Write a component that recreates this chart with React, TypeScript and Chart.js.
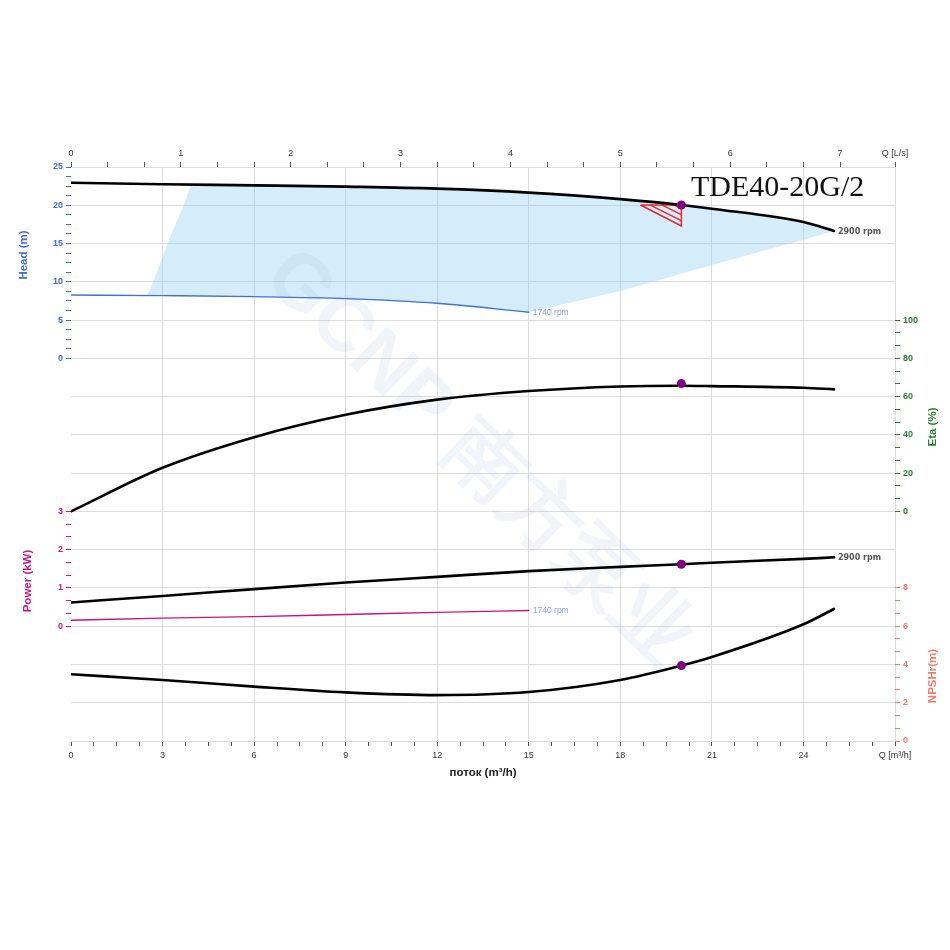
import React, { useEffect, useRef } from "react";
import { Chart, registerables } from "chart.js";

Chart.register(...registerables);

const FONT = '"Liberation Sans", Arial, Helvetica, sans-serif';

// ---------------- data (Q in m³/h) ----------------
const flow2900 = [0, 3, 6, 9, 12, 15, 18, 20, 21, 24, 25];
const head2900 = [22.95, 22.75, 22.6, 22.43, 22.17, 21.65, 20.8, 20.04, 19.55, 17.8, 16.64];
const eta2900 = [0, 22.8, 38.8, 50.5, 58.4, 62.9, 65.3, 65.7, 65.5, 64.6, 63.8];
const power2900 = [0.62, 0.79, 0.97, 1.14, 1.29, 1.44, 1.55, 1.62, 1.66, 1.76, 1.8];
const npsh2900 = [3.49, 3.19, 2.84, 2.54, 2.4, 2.56, 3.19, 3.94, 4.39, 6.1, 6.9];

const flow1740 = [0, 3, 6, 9, 12, 15];
const head1740 = [8.28, 8.19, 8.06, 7.8, 7.19, 6.02];
const power1740 = [0.157, 0.21, 0.25, 0.305, 0.36, 0.41];

// operating range (shaded polygon), Q / H
const rangeQ = [3.93, 6, 9, 12, 15, 18, 20, 21, 24, 25, 24, 21, 18, 15, 12, 9, 6, 3, 2.5, 2.7, 3.16, 3.69, 3.93];
const rangeH = [22.68, 22.6, 22.43, 22.17, 21.65, 20.8, 20.04, 19.55, 17.8, 16.64, 15.5, 12.2, 8.8, 6.02, 7.19, 7.8, 8.06, 8.19, 8.25, 10, 15, 20, 22.68];

// duty point
const dutyQ = 20;
const dutyHead = 20.04;
const dutyEta = 66.8;
const dutyPower = 1.62;
const dutyNpsh = 3.94;

// tolerance triangle
const tolQ = [18.66, 20, 20, 18.66];
const tolH = [20.04, 20.04, 17.29, 20.04];

// axis ticks
const flowTicksM3h = [0, 3, 6, 9, 12, 15, 18, 21, 24];
const flowMaxM3h = 27;
const flowTicksLs = [0, 1, 2, 3, 4, 5, 6, 7];
const headTicks = [0, 5, 10, 15, 20, 25];
const powerTicks = [0, 1, 2, 3];
const etaTicks = [0, 20, 40, 60, 80, 100];
const npshTicks = [0, 2, 4, 6, 8];

const modelName = "TDE40-20G/2";
const rpmHigh = "2900 rpm";
const rpmLow = "1740 rpm";
const watermark = "GCNP 南方泵业";

// ---------------- styling ----------------
const HEAD_COLOR = "#4169e1";
const POWER_COLOR = "#c71585";
const ETA_COLOR = "#2e7d32";
const NPSH_COLOR = "#f07c6c";
const GRID = "#dcdcdc";
const TICK_DARK = "#555";

// row layout of the combined panel (15 grid rows, row 0 at bottom)
const ROWS = 15;
const HEAD = { row0: 10, perRow: 5, sub: 4 };
const POWER = { row0: 3, perRow: 1, sub: 3 };
const ETA = { row0: 6, perRow: 20, sub: 3 };
const NPSH = { row0: 0, perRow: 2, sub: 3 };

type TickSpec = { value: number; label: string; color: string; grid: boolean; mark: boolean };

const isInt = (v: number) => Math.abs(v - Math.round(v)) < 1e-6;

function buildSide(
  groups: { ticks: number[]; row0: number; perRow: number; sub: number; color: string }[],
  withGrid: boolean
): TickSpec[] {
  const map = new Map<string, TickSpec>();
  const key = (v: number) => v.toFixed(4);
  for (let r = 0; r <= ROWS; r++) {
    map.set(key(r), { value: r, label: "", color: "transparent", grid: withGrid, mark: false });
  }
  groups.forEach((g) => {
    const rFirst = g.row0 + g.ticks[0] / g.perRow;
    const rLast = g.row0 + g.ticks[g.ticks.length - 1] / g.perRow;
    const n = Math.round((rLast - rFirst) * g.sub);
    for (let k = 0; k <= n; k++) {
      const r = rFirst + k / g.sub;
      const val = (r - g.row0) * g.perRow;
      const label =
        k % g.sub === 0 && g.ticks.some((t) => Math.abs(t - val) < 1e-6) ? String(Math.round(val)) : "";
      map.set(key(r), { value: r, label, color: g.color, grid: withGrid && isInt(r), mark: true });
    }
  });
  return [...map.values()].sort((a, b) => a.value - b.value);
}

const leftSpec = buildSide(
  [
    { ticks: headTicks, ...HEAD, color: HEAD_COLOR },
    { ticks: powerTicks, ...POWER, color: POWER_COLOR },
  ],
  true
);
const rightSpec = buildSide(
  [
    { ticks: etaTicks, ...ETA, color: ETA_COLOR },
    { ticks: npshTicks, ...NPSH, color: NPSH_COLOR },
  ],
  false
);

function buildBottom(): TickSpec[] {
  const out: TickSpec[] = [];
  const step = (flowTicksM3h[1] - flowTicksM3h[0]) / 4;
  for (let v = 0; v < flowMaxM3h - 1e-6; v += step) {
    const lab = flowTicksM3h.some((t) => Math.abs(t - v) < 1e-6);
    const major = Math.abs(v / 3 - Math.round(v / 3)) < 1e-6;
    out.push({ value: v, label: lab ? String(Math.round(v)) : "", color: "#333", grid: major && v > 0, mark: true });
  }
  out.push({ value: flowMaxM3h, label: "Q [m³/h]", color: "#333", grid: true, mark: true });
  return out;
}
function buildTop(): TickSpec[] {
  const out: TickSpec[] = [];
  const last = flowTicksLs[flowTicksLs.length - 1];
  for (let k = 0; k <= last * 3; k++) {
    const v = k / 3;
    out.push({ value: v, label: k % 3 === 0 ? String(k / 3) : "", color: "#333", grid: false, mark: true });
  }
  out.push({ value: flowMaxM3h / 3.6, label: "Q [L/s]", color: "#333", grid: false, mark: true });
  return out;
}
const bottomSpec = buildBottom();
const topSpec = buildTop();

const pts = (xs: number[], ys: number[]) => xs.map((x, i) => ({ x, y: ys[i] }));

function makeHatch(): CanvasPattern | string {
  const c = document.createElement("canvas");
  const W = 12;
  const H = 6;
  c.width = W;
  c.height = H;
  const g = c.getContext("2d");
  if (!g) return "rgba(230,30,40,0.4)";
  g.strokeStyle = "#e8262b";
  g.lineWidth = 1.4;
  for (let k = -1; k <= 1; k++) {
    g.beginPath();
    g.moveTo(-W, -H + k * H);
    g.lineTo(2 * W, 2 * H + k * H);
    g.stroke();
  }
  return g.createPattern(c, "repeat") || "rgba(230,30,40,0.4)";
}

function axisFromSpec(spec: TickSpec[], extra: any) {
  return {
    type: "linear",
    afterBuildTicks: (scale: any) => {
      scale.ticks = spec.map((s) => ({ value: s.value }));
    },
    ticks: {
      autoSkip: false,
      maxRotation: 0,
      minRotation: 0,
      callback: (_v: any, i: number) => (spec[i] ? spec[i].label : ""),
      color: (ctx: any) => (spec[ctx.index] ? spec[ctx.index].color : "#333"),
      font: { family: FONT, size: 9 },
      ...(extra.ticks || {}),
    },
    grid: {
      color: (ctx: any) => (spec[ctx.index] && spec[ctx.index].grid ? GRID : "transparent"),
      tickColor: (ctx: any) => {
        const s = spec[ctx.index];
        if (!s || !s.mark) return "transparent";
        return extra.tickColor || s.color;
      },
      tickLength: 5,
      lineWidth: 1,
      tickWidth: 1,
      ...(extra.grid || {}),
    },
    border: { display: false },
    ...extra.rest,
  };
}

const textPlugin = {
  id: "pumpTexts",
  beforeDatasetsDraw(chart: any) {
    const { ctx } = chart;
    const { left, right, top, bottom } = chart.chartArea;
    ctx.save();
    ctx.translate((left + right) / 2 - 5, (top + bottom) / 2 + 5);
    ctx.rotate((44 * Math.PI) / 180);
    ctx.font = `bold 78px ${FONT}`;
    ctx.fillStyle = "rgba(150,180,210,0.13)";
    ctx.textAlign = "center";
    ctx.textBaseline = "middle";
    ctx.fillText(watermark, 0, 0);
    ctx.restore();
  },
  afterDatasetsDraw(chart: any) {
    const { ctx } = chart;
    const { left, right, top } = chart.chartArea;
    // end-of-curve labels
    chart.data.datasets.forEach((ds: any, i: number) => {
      if (!ds.endLabel) return;
      const meta = chart.getDatasetMeta(i);
      const p = meta.data[meta.data.length - 1];
      if (!p) return;
      ctx.save();
      ctx.font = ds.endLabelFont;
      ctx.fillStyle = ds.endLabelColor;
      ctx.textAlign = "left";
      ctx.textBaseline = "middle";
      ctx.fillText(ds.endLabel, p.x + 4, p.y + 0.5);
      ctx.restore();
    });
    // model name
    ctx.save();
    ctx.font = '30px "Liberation Serif", "Times New Roman", serif';
    ctx.fillStyle = "#111";
    ctx.textAlign = "left";
    ctx.textBaseline = "alphabetic";
    ctx.fillText(modelName, right - 204, top + 29);
    ctx.restore();
    // axis titles
    const vTitle = (text: string, x: number, y: number, color: string) => {
      ctx.save();
      ctx.translate(x, y);
      ctx.rotate(-Math.PI / 2);
      ctx.font = `bold 11.5px ${FONT}`;
      ctx.fillStyle = color;
      ctx.textAlign = "center";
      ctx.textBaseline = "middle";
      ctx.fillText(text, 0, 0);
      ctx.restore();
    };
    vTitle("Head (m)", left - 47, top + 88, HEAD_COLOR);
    vTitle("Power (kW)", left - 43, top + 414, POWER_COLOR);
    vTitle("Eta (%)", right + 38, top + 260, ETA_COLOR);
    vTitle("NPSHr(m)", right + 38, top + 509, NPSH_COLOR);
  },
};

export default function App() {
  const ref = useRef<HTMLCanvasElement>(null);

  useEffect(() => {
    const canvas = ref.current;
    if (!canvas) return;
    const hatch = makeHatch();

    const line = (data: any, yAxisID: string, color: string, width: number, extra: any = {}) => ({
      data,
      yAxisID,
      xAxisID: "x",
      borderColor: color,
      borderWidth: width,
      pointRadius: 0,
      fill: false,
      cubicInterpolationMode: "monotone",
      borderCapStyle: "round",
      borderJoinStyle: "round",
      order: 2,
      ...extra,
    });
    const dot = (x: number, y: number, yAxisID: string) => ({
      data: [{ x, y }],
      yAxisID,
      xAxisID: "x",
      showLine: false,
      pointRadius: 4.5,
      pointBackgroundColor: "#800080",
      pointBorderColor: "#800080",
      pointBorderWidth: 0,
      order: 0,
    });

    const highLabel = { endLabelFont: 'bold 8px "DejaVu Sans", Verdana, sans-serif', endLabelColor: "#555" };
    const lowLabel = { endLabelFont: `8.5px ${FONT}`, endLabelColor: "#8a9de0" };

    const chart = new Chart(canvas, {
      type: "line",
      data: {
        datasets: [
          {
            data: pts(rangeQ, rangeH),
            yAxisID: "yHead",
            xAxisID: "x",
            borderWidth: 0,
            borderColor: "rgba(0,0,0,0)",
            backgroundColor: "rgba(135,200,240,0.35)",
            fill: "shape",
            pointRadius: 0,
            tension: 0,
            order: 10,
          },
          {
            data: pts(tolQ, tolH),
            yAxisID: "yHead",
            xAxisID: "x",
            borderWidth: 1.5,
            borderColor: "#e8262b",
            backgroundColor: hatch,
            fill: "shape",
            pointRadius: 0,
            tension: 0,
            order: 3,
          },
          line(pts(flow2900, head2900), "yHead", "#000", 2.6, { endLabel: rpmHigh, ...highLabel }),
          line(pts(flow1740, head1740), "yHead", "#3f6fe0", 1.4, { endLabel: rpmLow, ...lowLabel }),
          line(pts(flow2900, eta2900), "yEta", "#000", 2.6),
          line(pts(flow2900, power2900), "yPower", "#000", 2.6, { endLabel: rpmHigh, ...highLabel }),
          line(pts(flow1740, power1740), "yPower", "#c8157f", 1.4, { endLabel: rpmLow, ...lowLabel }),
          line(pts(flow2900, npsh2900), "yNpsh", "#000", 2.6),
          dot(dutyQ, dutyHead, "yHead"),
          dot(dutyQ, dutyEta, "yEta"),
          dot(dutyQ, dutyPower, "yPower"),
          dot(dutyQ, dutyNpsh, "yNpsh"),
        ] as any,
      },
      options: {
        responsive: false,
        animation: false,
        devicePixelRatio: 1,
        layout: { padding: { left: 0, right: 0, top: 137, bottom: 170 } },
        plugins: { legend: { display: false }, tooltip: { enabled: false } },
        scales: {
          x: axisFromSpec(bottomSpec, {
            tickColor: TICK_DARK,
            ticks: { padding: 4 },
            rest: {
              position: "bottom",
              min: 0,
              max: flowMaxM3h,
              title: {
                display: true,
                text: "поток (m³/h)",
                color: "#222",
                font: { family: FONT, size: 11.5, weight: "bold" },
                padding: 0,
              },
              afterFit: (s: any) => {
                s.height = 39;
              },
            },
          }),
          x2: axisFromSpec(topSpec, {
            tickColor: TICK_DARK,
            ticks: { padding: 3 },
            grid: { drawOnChartArea: false },
            rest: {
              position: "top",
              min: 0,
              max: flowMaxM3h / 3.6,
              afterFit: (s: any) => {
                s.height = 30;
              },
            },
          }),
          yL: axisFromSpec(leftSpec, {
            ticks: { padding: 3, font: { family: FONT, size: 9, weight: "bold" } },
            rest: {
              position: "left",
              min: 0,
              max: ROWS,
              afterFit: (s: any) => {
                s.width = 71;
              },
            },
          }),
          yR: axisFromSpec(rightSpec, {
            ticks: { padding: 3, font: { family: FONT, size: 9, weight: "bold" } },
            grid: { drawOnChartArea: false },
            rest: {
              position: "right",
              min: 0,
              max: ROWS,
              afterFit: (s: any) => {
                s.width = 55;
              },
            },
          }),
          yHead: { type: "linear", display: false, min: -HEAD.row0 * HEAD.perRow, max: (ROWS - HEAD.row0) * HEAD.perRow },
          yPower: { type: "linear", display: false, min: -POWER.row0 * POWER.perRow, max: (ROWS - POWER.row0) * POWER.perRow },
          yEta: { type: "linear", display: false, min: -ETA.row0 * ETA.perRow, max: (ROWS - ETA.row0) * ETA.perRow },
          yNpsh: { type: "linear", display: false, min: -NPSH.row0 * NPSH.perRow, max: (ROWS - NPSH.row0) * NPSH.perRow },
        } as any,
      },
      plugins: [textPlugin],
    });

    return () => chart.destroy();
  }, []);

  return (
    <div style={{ position: "absolute", left: 0, top: 0, width: 950, height: 950, background: "#fff" }}>
      <canvas ref={ref} width={950} height={950} style={{ display: "block" }} />
    </div>
  );
}
